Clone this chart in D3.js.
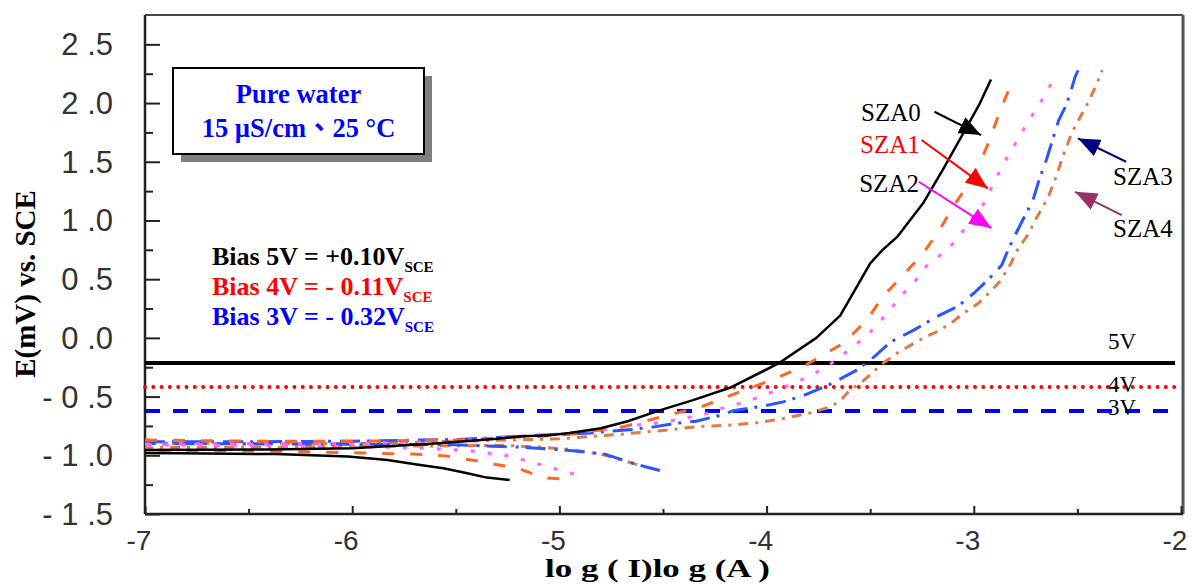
<!DOCTYPE html>
<html>
<head>
<meta charset="utf-8">
<script src="https://cdn.jsdelivr.net/npm/d3@7"></script>
<style>
  html, body { margin: 0; padding: 0; background: #fff; }
  svg { display: block; }
</style>
</head>
<body>
<svg id="chart" width="1195" height="584"></svg>
<script>
// ---- Axis ticks ----
const xTicks = [-7, -6, -5, -4, -3, -2];
const xTickLabels = ["-7", "-6", "-5", "-4", "-3", "-2"];
const yTicks = [2.5, 2.0, 1.5, 1.0, 0.5, 0.0, -0.5, -1.0, -1.5];
const yTickLabels = ["2 .5", "2 .0", "1 .5", "1 .0", "0 .5", "0 .0", "- 0 .5", "- 1 .0", "- 1 .5"];

// ---- Polarization curves: [log I, E] ----
const sza0Cathodic = [[-5.24,-1.21],[-5.35,-1.19],[-5.45,-1.15],[-5.56,-1.11],[-5.68,-1.08],[-5.83,-1.04],[-6.02,-1.01],[-6.37,-0.99],[-6.7,-0.985],[-7,-0.98]];
const sza0Anodic = [[-7,-0.955],[-6.4,-0.95],[-6.0,-0.94],[-5.6,-0.9],[-5.3,-0.86],[-5.2,-0.84],[-5.05,-0.83],[-4.95,-0.81],[-4.8,-0.77],[-4.67,-0.71],[-4.52,-0.62],[-4.355,-0.53],[-4.17,-0.42],[-3.945,-0.22],[-3.76,0.0],[-3.645,0.19],[-3.565,0.435],[-3.5,0.635],[-3.44,0.75],[-3.37,0.86],[-3.245,1.146],[-3.15,1.43],[-3.05,1.745],[-2.97,2.0],[-2.917,2.2]];

const sza1Cathodic = [[-5.0,-1.2],[-5.08,-1.19],[-5.2,-1.11],[-5.3,-1.08],[-5.39,-1.05],[-5.55,-1.005],[-5.7,-0.99],[-5.95,-0.98],[-6.4,-0.965],[-7,-0.955]];
const sza1Anodic = [[-7,-0.87],[-6.5,-0.88],[-6.0,-0.88],[-5.5,-0.87],[-5.27,-0.85],[-5.1,-0.84],[-4.95,-0.82],[-4.7,-0.76],[-4.48,-0.66],[-4.32,-0.59],[-4.13,-0.46],[-3.955,-0.345],[-3.81,-0.23],[-3.63,-0.047],[-3.517,0.15],[-3.44,0.35],[-3.34,0.535],[-3.245,0.72],[-3.165,0.92],[-3.1,1.117],[-3.035,1.287],[-2.97,1.49],[-2.925,1.68],[-2.877,1.915],[-2.816,2.18]];

const sza2Cathodic = [[-4.93,-1.16],[-5.03,-1.11],[-5.14,-1.055],[-5.24,-1.007],[-5.44,-0.96],[-5.65,-0.94],[-5.85,-0.93],[-6.3,-0.92],[-7,-0.91]];
const sza2Anodic = [[-7,-0.905],[-6.5,-0.9],[-6.0,-0.9],[-5.5,-0.88],[-5.21,-0.84],[-5.02,-0.82],[-4.81,-0.785],[-4.61,-0.74],[-4.5,-0.72],[-4.4,-0.685],[-4.3,-0.65],[-4.19,-0.587],[-4.1,-0.545],[-3.99,-0.473],[-3.887,-0.4],[-3.79,-0.325],[-3.687,-0.217],[-3.6,-0.1],[-3.517,0.015],[-3.46,0.124],[-3.405,0.237],[-3.35,0.36],[-3.285,0.478],[-3.23,0.61],[-3.15,0.72],[-3.09,0.82],[-3.037,0.946],[-2.94,1.17],[-2.91,1.3],[-2.845,1.515],[-2.766,1.756],[-2.724,1.88],[-2.64,2.11],[-2.614,2.23]];

const sza3Cathodic = [[-4.515,-1.13],[-4.58,-1.1],[-4.66,-1.06],[-4.78,-0.99],[-4.98,-0.955],[-5.2,-0.93],[-5.5,-0.91],[-6.2,-0.905],[-7,-0.9]];
const sza3Anodic = [[-7,-0.885],[-6.5,-0.885],[-6.0,-0.88],[-5.5,-0.865],[-5.37,-0.855],[-5.1,-0.83],[-4.85,-0.81],[-4.65,-0.78],[-4.55,-0.76],[-4.45,-0.73],[-4.34,-0.71],[-4.225,-0.66],[-4.16,-0.62],[-4.015,-0.58],[-3.92,-0.545],[-3.82,-0.49],[-3.687,-0.39],[-3.565,-0.275],[-3.48,-0.16],[-3.4,-0.033],[-3.29,0.066],[-3.18,0.18],[-3.08,0.265],[-3.0,0.38],[-2.92,0.515],[-2.865,0.62],[-2.835,0.748],[-2.805,0.86],[-2.765,1.0],[-2.715,1.17],[-2.685,1.345],[-2.65,1.515],[-2.62,1.685],[-2.59,1.855],[-2.555,1.98],[-2.53,2.11],[-2.51,2.23],[-2.49,2.3]];

const sza4Cathodic = [[-4.625,-1.08],[-4.7,-1.04],[-4.8,-0.99],[-4.95,-0.95],[-5.1,-0.93],[-5.27,-0.915],[-5.6,-0.92],[-6.2,-0.93],[-7,-0.935]];
const sza4Anodic = [[-7,-0.9],[-6.0,-0.9],[-5.5,-0.88],[-5.0,-0.86],[-4.7,-0.82],[-4.48,-0.785],[-4.34,-0.757],[-4.15,-0.74],[-4.03,-0.72],[-3.9,-0.68],[-3.79,-0.64],[-3.69,-0.587],[-3.64,-0.53],[-3.6,-0.445],[-3.55,-0.39],[-3.49,-0.3],[-3.45,-0.23],[-3.37,-0.13],[-3.29,-0.047],[-3.23,0.01],[-3.18,0.052],[-3.11,0.124],[-3.05,0.21],[-2.978,0.294],[-2.92,0.393],[-2.87,0.49],[-2.84,0.578],[-2.82,0.635],[-2.8,0.72],[-2.735,0.89],[-2.695,1.03],[-2.64,1.2],[-2.6,1.387],[-2.565,1.57],[-2.525,1.755],[-2.485,1.885],[-2.45,2.0],[-2.41,2.15],[-2.38,2.28]];

// ---- Bias potentials (horizontal reference lines) ----
const biasNames = ["5V", "4V", "3V"];
const biasLevels = [-0.214, -0.418, -0.623];

// ---- Sample labels and arrow anchors (data units) ----
const sampleNames = ["SZA0", "SZA1", "SZA2", "SZA3", "SZA4"];
const labelAnchors = [[-3.544, 1.846], [-3.549, 1.572], [-3.553, 1.244], [-2.328, 1.302], [-2.328, 0.861]];
const arrowTails = [[-3.19, 1.926], [-3.252, 1.685], [-3.265, 1.330], [-2.265, 1.500], [-2.286, 1.046]];
const arrowTips = [[-2.965, 1.727], [-2.932, 1.273], [-2.915, 0.935], [-2.497, 1.699], [-2.511, 1.244]];

// ---- Styling ----
const curveColors = ["#000000", "#ff6622", "#ff66ff", "#2a55ff", "#e07a45"];
const curveWidths = [2.5, 3, 3.2, 3, 3];
const curveDashes = [null, "12,16", "4,13", "20,7,3,9", "10,7,3,7"];
const labelColors = ["#000000", "#ff0000", "#000000", "#000000", "#000000"];
const arrowColors = ["#000000", "#ff0000", "#ff00ff", "#000080", "#993366"];

const serif = "'Liberation Serif', 'Times New Roman', serif";
const sans = "'Liberation Sans', Arial, sans-serif";

const svg = d3.select("#chart");
const plot = { left: 145, right: 1181, top: 15, bottom: 514 };

const x = d3.scaleLinear().domain([-7, -2]).range([plot.left, plot.right]);
const y = d3.scaleLinear().domain([-1.5, 2.75]).range([plot.bottom, plot.top]);

svg.append("defs").append("clipPath").attr("id", "plotClip")
  .append("rect")
  .attr("x", plot.left).attr("y", plot.top)
  .attr("width", plot.right - plot.left).attr("height", plot.bottom - plot.top);

// Frame: top and right edges in grey
svg.append("line").attr("x1", plot.left).attr("x2", plot.right + 2)
  .attr("y1", plot.top).attr("y2", plot.top)
  .attr("stroke", "#4a4a4a").attr("stroke-width", 2);
svg.append("line").attr("x1", plot.right + 2).attr("x2", plot.right + 2)
  .attr("y1", plot.top).attr("y2", plot.bottom)
  .attr("stroke", "#555").attr("stroke-width", 3);

// Axes with inward major and minor ticks
const xMinor = d3.range(-6.5, -2, 1);
const yMinor = d3.range(-1.25, 2.75, 0.5);

const xAxisG = svg.append("g").attr("transform", `translate(0,${plot.bottom})`);
xAxisG.call(d3.axisBottom(x).tickValues(xTicks).tickSize(-8).tickFormat(() => ""));
xAxisG.append("g").call(d3.axisBottom(x).tickValues(xMinor).tickSize(-5).tickFormat(() => ""));
xAxisG.selectAll("path.domain").remove();
xAxisG.selectAll("line").attr("stroke", "#222").attr("stroke-width", 2);

const yAxisG = svg.append("g").attr("transform", `translate(${plot.left},0)`);
yAxisG.call(d3.axisLeft(y).tickValues(yTicks).tickSize(-15).tickFormat(() => ""));
yAxisG.append("g").call(d3.axisLeft(y).tickValues(yMinor).tickSize(-8).tickFormat(() => ""));
yAxisG.selectAll("path.domain").remove();
yAxisG.selectAll("line").attr("stroke", "#222").attr("stroke-width", 2);

// Axis lines
svg.append("line").attr("x1", plot.left).attr("x2", plot.right + 2)
  .attr("y1", plot.bottom).attr("y2", plot.bottom)
  .attr("stroke", "#222").attr("stroke-width", 2.5);
svg.append("line").attr("x1", plot.left).attr("x2", plot.left)
  .attr("y1", plot.top).attr("y2", plot.bottom)
  .attr("stroke", "#222").attr("stroke-width", 2.5);

// Tick labels
svg.append("g").selectAll("text").data(xTicks).join("text")
  .attr("x", d => x(d) - 6).attr("y", 550)
  .attr("text-anchor", "middle")
  .attr("font-family", sans).attr("font-size", 28).attr("fill", "#333")
  .text((d, i) => xTickLabels[i]);

svg.append("g").selectAll("text").data(yTicks).join("text")
  .attr("x", 113).attr("y", d => y(d) + 11)
  .attr("text-anchor", "end")
  .attr("font-family", sans).attr("font-size", 31).attr("fill", "#333")
  .text((d, i) => yTickLabels[i]);

// Axis titles
svg.append("text")
  .attr("transform", `translate(35,284) rotate(-90)`)
  .attr("text-anchor", "middle")
  .attr("font-family", serif).attr("font-weight", "bold").attr("font-size", 29)
  .text("E(mV) vs. SCE");

svg.append("text")
  .attr("x", 545).attr("y", 577)
  .attr("font-family", serif).attr("font-weight", "bold").attr("font-size", 25)
  .attr("textLength", 225).attr("lengthAdjust", "spacingAndGlyphs")
  .text("lo g ( I)lo g (A )");

// Bias reference lines
const refStyles = [
  { color: "#000", width: 4, dash: null, cap: "butt" },
  { color: "#ff0000", width: 4, dash: "0,8.3", cap: "round" },
  { color: "#0000ff", width: 4, dash: "15,13", cap: "butt" }
];
const refG = svg.append("g");
biasLevels.forEach((v, i) => {
  refG.append("line")
    .attr("x1", plot.left).attr("x2", plot.right - 6)
    .attr("y1", y(v)).attr("y2", y(v))
    .attr("stroke", refStyles[i].color)
    .attr("stroke-width", refStyles[i].width)
    .attr("stroke-linecap", refStyles[i].cap)
    .attr("stroke-dasharray", refStyles[i].dash);
});
const refLabelOffsets = [-14, 5, 4];
refG.selectAll("text").data(biasLevels).join("text")
  .attr("x", 1108)
  .attr("y", (d, i) => y(d) + refLabelOffsets[i])
  .attr("font-family", serif).attr("font-size", 23).attr("fill", "#000")
  .text((d, i) => biasNames[i]);

// Curves
const line = d3.line().x(d => x(d[0])).y(d => y(d[1]));
const curveSets = [
  [sza0Cathodic, sza0Anodic],
  [sza1Cathodic, sza1Anodic],
  [sza2Cathodic, sza2Anodic],
  [sza3Cathodic, sza3Anodic],
  [sza4Cathodic, sza4Anodic]
];
const curvesG = svg.append("g").attr("clip-path", "url(#plotClip)");
// draw from the rightmost sample back so SZA0 sits on top
[4, 3, 2, 1, 0].forEach(i => {
  curveSets[i].forEach(branch => {
    curvesG.append("path")
      .datum(branch)
      .attr("d", line)
      .attr("fill", "none")
      .attr("stroke", curveColors[i])
      .attr("stroke-width", curveWidths[i])
      .attr("stroke-dasharray", curveDashes[i])
      .attr("stroke-linejoin", "round");
  });
});

// Sample labels with arrows
const defs = svg.select("defs");
arrowColors.forEach((c, i) => {
  defs.append("marker")
    .attr("id", "arrow" + i)
    .attr("markerUnits", "userSpaceOnUse")
    .attr("viewBox", "0 0 22 18")
    .attr("refX", 22).attr("refY", 9)
    .attr("markerWidth", 22).attr("markerHeight", 18)
    .attr("orient", "auto")
    .append("path").attr("d", "M0,0 L22,9 L0,18 Z").attr("fill", c);
});
const annG = svg.append("g");
sampleNames.forEach((name, i) => {
  annG.append("line")
    .attr("x1", x(arrowTails[i][0])).attr("y1", y(arrowTails[i][1]))
    .attr("x2", x(arrowTips[i][0])).attr("y2", y(arrowTips[i][1]))
    .attr("stroke", arrowColors[i]).attr("stroke-width", 2)
    .attr("marker-end", `url(#arrow${i})`);
  annG.append("text")
    .attr("x", x(labelAnchors[i][0])).attr("y", y(labelAnchors[i][1]))
    .attr("font-family", serif).attr("font-size", 25)
    .attr("fill", labelColors[i])
    .text(name);
});

// Condition box with drop shadow
const box = { x: 173, y: 68, w: 251, h: 86 };
svg.append("rect").attr("x", box.x + 8).attr("y", box.y + 8)
  .attr("width", box.w).attr("height", box.h).attr("fill", "#808080");
svg.append("rect").attr("x", box.x).attr("y", box.y)
  .attr("width", box.w).attr("height", box.h)
  .attr("fill", "#fff").attr("stroke", "#000").attr("stroke-width", 2);
const boxText = svg.append("g")
  .attr("font-family", serif).attr("font-weight", "bold").attr("font-size", 26.5)
  .attr("fill", "#0000ff").attr("text-anchor", "middle");
boxText.append("text").attr("x", box.x + box.w / 2).attr("y", 103).text("Pure water");
const t2 = boxText.append("text").attr("x", box.x + box.w / 2).attr("y", 137);
t2.append("tspan").text("15 \u00b5S/cm");
t2.append("tspan").attr("font-family", "'Noto Sans CJK TC', sans-serif").text("\u3001");
t2.append("tspan").text("25 \u00b0C");

// Bias potential notes
const biasNotes = [
  { text: "Bias 5V = +0.10V", color: "#000000" },
  { text: "Bias 4V = - 0.11V", color: "#ff0000" },
  { text: "Bias 3V = - 0.32V", color: "#0000ff" }
];
const notesG = svg.append("g").attr("font-family", serif).attr("font-weight", "bold");
biasNotes.forEach((n, i) => {
  const t = notesG.append("text")
    .attr("x", 212).attr("y", 265 + i * 30)
    .attr("font-size", 26).attr("fill", n.color);
  t.append("tspan").text(n.text);
  t.append("tspan").attr("font-size", 15).attr("dy", 7).text("SCE");
});
</script>
</body>
</html>
